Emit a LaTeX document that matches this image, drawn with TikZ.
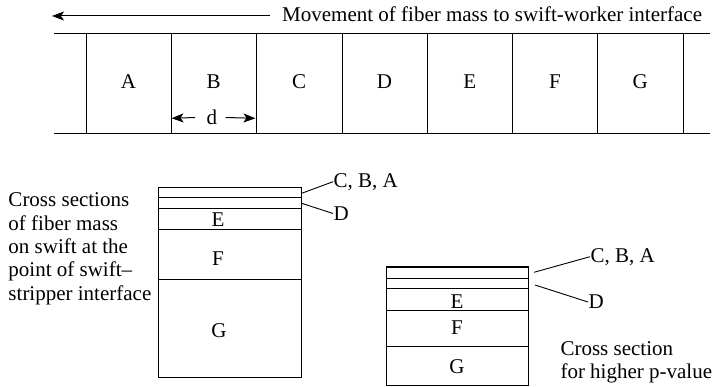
\documentclass[tikz,border=0pt]{standalone}
\usepackage{fontspec}
\setmainfont{Liberation Serif}
\usetikzlibrary{arrows.meta}
\begin{document}
\begin{tikzpicture}[x=1pt,y=-1pt, line width=1pt,
  lbl/.style={inner sep=0pt, font=\fontsize{21}{23.3}\selectfont},
  arr/.style={-{Stealth[length=12pt,width=9pt,inset=3pt]}},
  leader/.style={line width=0.9pt}]
\useasboundingbox (0,0) rectangle (717,387);
% top arrow and caption
\node[lbl, anchor=base west] (mov) at (281.7,22) {Movement of fiber mass to swift-worker interface};
\coordinate (movs) at (270,16);
\coordinate (movt) at (52,16);
\draw[arr] (movs) -- (movt);
% band
\coordinate (bandTL) at (54.3,33.3);
\coordinate (bandTR) at (710,33.3);
\coordinate (bandBL) at (54.3,133.3);
\coordinate (bandBR) at (710,133.3);
\draw (bandTL) -- (bandTR);
\draw (bandBL) -- (bandBR);
\foreach \i/\x in {0/86,1/171,2/256.3,3/342,4/427,5/512.3,6/597.7,7/683}{
  \draw (\x,33.3) -- (\x,133.3);
}
\foreach \n/\x in {A/128.5,B/213.7,C/299.2,D/384.5,E/469.7,F/555,G/640.3}{
  \node[lbl] (seg\n) at (\x,82) {\n};
}
% d dimension
\node[lbl] (dlab) at (211.8,117.5) {d};
\coordinate (dl) at (171.5,118.3);
\coordinate (dr) at (255.5,118.3);
\draw[arr] ([xshift=-11pt]dlab.west) -- (dl);
\draw[arr] ([xshift=8pt]dlab.east) -- (dr);
% left description
\node[lbl, anchor=base west, align=left] (desc) at (8,300) {Cross sections\\of fiber mass\\on swift at the\\point of swift--\\stripper interface};
% left cross section
\draw (158.3,188) rectangle (301.7,377);
\foreach \y in {197.5,208.3,229.5,279.5}{
  \draw (158.3,\y) -- (301.7,\y);
}
\node[lbl] (lE) at (218,220) {E};
\node[lbl] (lF) at (218,259) {F};
\node[lbl] (lG) at (219,331) {G};
\node[lbl, anchor=west] (lcba) at (333,181.7) {C, B, A};
\node[lbl, anchor=west] (ld) at (333,213.5) {D};
\coordinate (lcbaS) at (301.7,193.3);
\coordinate (ldS) at (301.7,203.3);
\draw[leader] (lcbaS) -- (lcba.west);
\draw[leader] (ldS) -- (ld.west);
% right cross section
\draw (386.7,266.7) rectangle (528.3,385);
\draw[line width=1.8pt] (386.7,266.7) -- (528.3,266.7);
\foreach \y in {278.5,288,310,346}{
  \draw (386.7,\y) -- (528.3,\y);
}
\node[lbl] (rE) at (457,301.7) {E};
\node[lbl] (rF) at (457,328) {F};
\node[lbl] (rG) at (457,367) {G};
\node[lbl, anchor=west] (rcba) at (590,256.7) {C, B, A};
\node[lbl, anchor=west] (rd) at (588,302) {D};
\coordinate (rcbaS) at (534,272.3);
\coordinate (rdS) at (535,285);
\draw[leader] (rcbaS) -- (rcba.west);
\draw[leader] (rdS) -- (rd.west);
\node[lbl, anchor=base west, align=left] (rdesc) at (560,378.3) {Cross section\\for higher p-value};
\end{tikzpicture}
\end{document}
